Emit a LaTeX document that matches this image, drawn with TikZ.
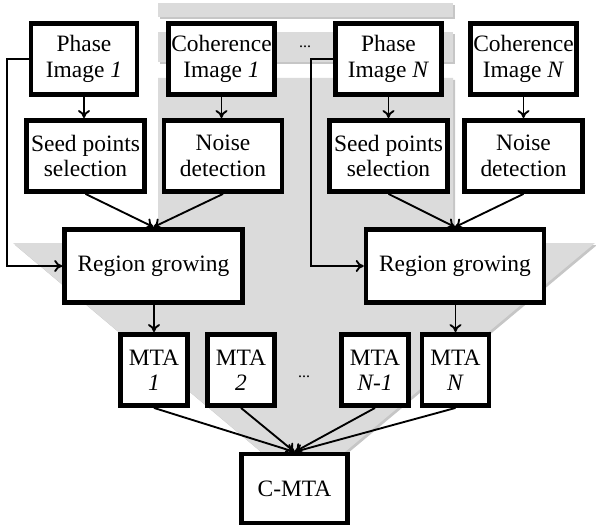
\documentclass[tikz,border=0pt]{standalone}
\usepackage{fontspec}
\setmainfont{Liberation Serif}
\usetikzlibrary{arrows.meta, positioning}
\newcommand{\boxfont}{\fontsize{17.6pt}{19pt}\selectfont}

\begin{document}
\begin{tikzpicture}[x=0.75pt, y=-0.75pt,
  box/.style={draw, line width=3.4pt, fill=white, align=center, inner sep=0pt, font=\boxfont},
  imgbox/.style={box, minimum width=79.5pt, minimum height=53.5pt},
  stepbox/.style={box, minimum width=88.5pt, minimum height=53.5pt},
  growbox/.style={box, minimum width=133.5pt, minimum height=55pt},
  mtabox/.style={box, minimum width=50.5pt, minimum height=53.5pt},
  wire/.style={line width=1.4pt},
  conn/.style={wire, -{To[length=6pt, width=9pt]}},
  dots/.style={font=\fontsize{12pt}{14pt}\selectfont, inner sep=0pt}]
  \useasboundingbox (0,0) rectangle (596,528);
  % grey backdrop: stacked sheets and arrow head
  \begin{scope}[shift={(2,2)}]
    \fill[gray!45] (158,3) rectangle (453,17);
    \fill[gray!45] (158,32) rectangle (453,62);
    \fill[gray!45] (158,78) -- (453,78) -- (453,243) -- (595,243)
      -- (303,487) -- (13,243) -- (158,243) -- cycle;
  \end{scope}
  \fill[gray!28] (158,3) rectangle (453,17);
  \fill[gray!28] (158,32) rectangle (453,62);
  \fill[gray!28] (158,78) -- (453,78) -- (453,243) -- (595,243)
    -- (303,487) -- (13,243) -- (158,243) -- cycle;

  % chain 1
  \node[imgbox] (ph1) at (84,59) {Phase\\Image \textit{1}};
  \node[imgbox] (co1) at (221.5,59) {Coherence\\Image \textit{1}};
  \node[stepbox] (sd1) at (85.5,156) {Seed points\\selection};
  \node[stepbox] (nd1) at (223,156) {Noise\\detection};
  \node[growbox] (rg1) at (153.5,266) {Region growing};
  % chain N
  \node[imgbox] (phN) at (388.5,59) {Phase\\Image \textit{N}};
  \node[imgbox] (coN) at (523.5,59) {Coherence\\Image \textit{N}};
  \node[stepbox] (sdN) at (388.5,156) {Seed points\\selection};
  \node[stepbox] (ndN) at (523.5,156) {Noise\\detection};
  \node[growbox] (rgN) at (455,266) {Region growing};
  % maps
  \node[mtabox] (mta1) at (154,370) {MTA\\\textit{1}};
  \node[mtabox] (mta2) at (241,370) {MTA\\\textit{2}};
  \node[mtabox] (mtaN1) at (375,370) {MTA\\\textit{N-1}};
  \node[mtabox] (mtaN) at (455.5,370) {MTA\\\textit{N}};
  \node[box, minimum width=79.5pt, minimum height=51.5pt] (cmta) at (294.5,488.5) {C-MTA};
  \node[dots] (gap1) at (305,47) {...};
  \node[dots] (gap2) at (304,377) {...};

  \coordinate (bus1) at (7,0);
  \coordinate (busN) at (311,0);

  \draw[conn] (ph1.south) -- (ph1.south |- sd1.north);
  \draw[conn] (co1.south) -- (co1.south |- nd1.north);
  \draw[conn] (sd1.south) -- (rg1.north);
  \draw[conn] (nd1.south) -- (rg1.north);
  \draw[conn] (ph1.west) -- (ph1.west -| bus1) |- (rg1.west);
  \draw[conn] (phN.south) -- (phN.south |- sdN.north);
  \draw[conn] (coN.south) -- (coN.south |- ndN.north);
  \draw[conn] (sdN.south) -- (rgN.north);
  \draw[conn] (ndN.south) -- (rgN.north);
  \draw[conn] (phN.west) -- (phN.west -| busN) |- (rgN.west);
  \draw[conn] (rg1.south -| mta1) -- (mta1.north);
  \draw[conn] (rgN.south -| mtaN) -- (mtaN.north);
  \foreach \m in {mta1, mta2, mtaN1, mtaN}
    \draw[conn] (\m.south) -- (cmta.north);
\end{tikzpicture}
\end{document}
